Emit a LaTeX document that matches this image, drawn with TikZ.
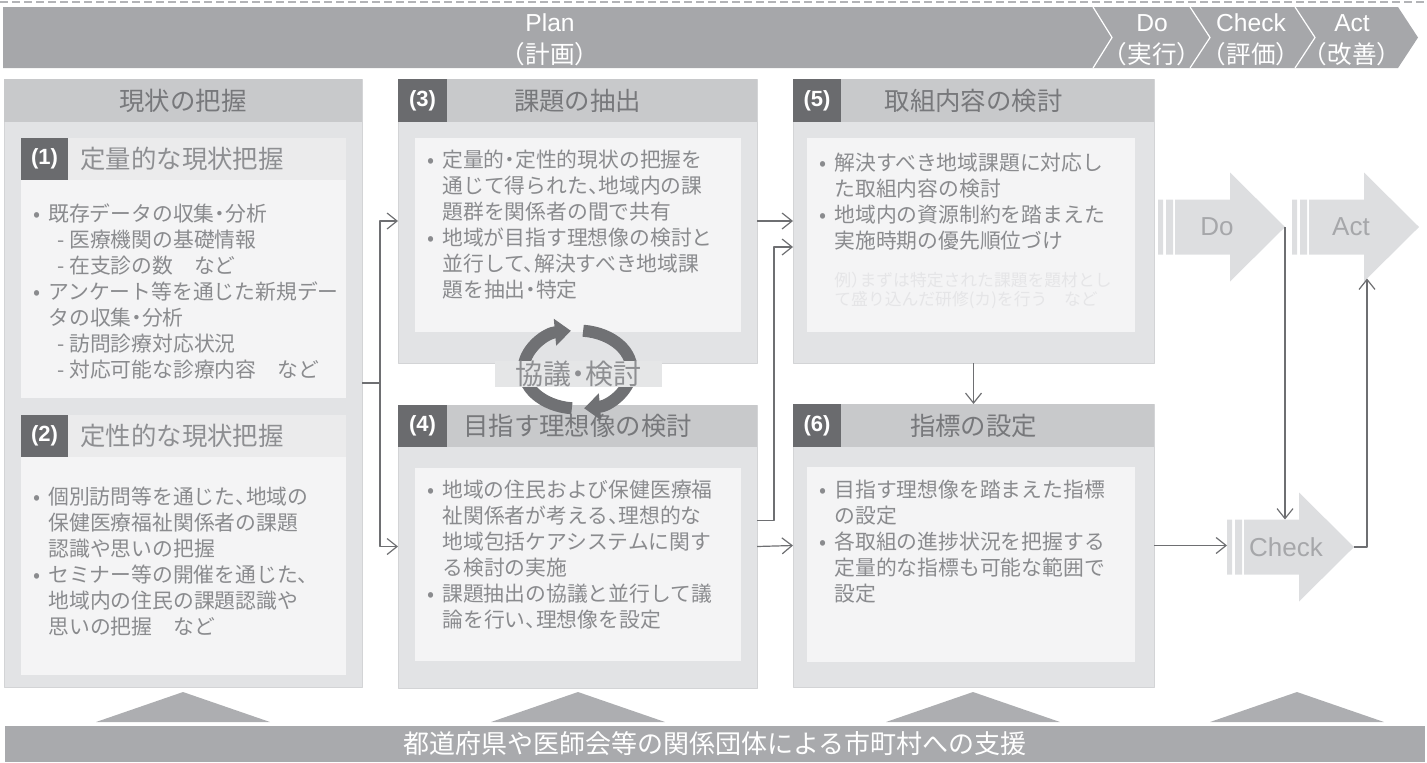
\documentclass[tikz,border=0pt]{standalone}
\usepackage{fontspec}
\setmainfont{Liberation Sans}
\newfontfamily\jp[CharacterWidth=AlternateHalf]{Noto Sans CJK JP}
\newfontfamily\jpw{Noto Sans CJK JP}
\usetikzlibrary{arrows.meta}
\definecolor{bannergray}{HTML}{A6A7AA}
\definecolor{panelfill}{HTML}{E2E3E5}
\definecolor{panelline}{HTML}{D3D4D6}
\definecolor{headgray}{HTML}{C8C9CB}
\definecolor{taggray}{HTML}{6A6B6E}
\definecolor{subheadfill}{HTML}{EBEBEC}
\definecolor{sheetfill}{HTML}{F4F4F5}
\definecolor{titlegray}{HTML}{77787B}
\definecolor{subtitlegray}{HTML}{8E8F92}
\definecolor{bodygray}{HTML}{8A8B8E}
\definecolor{faintgray}{HTML}{E5E5E7}
\definecolor{conngray}{HTML}{6E6F72}
\definecolor{cycgray}{HTML}{707174}
\definecolor{talkfill}{HTML}{E5E6E7}
\definecolor{arrowfill}{HTML}{DDDEE0}
\definecolor{arrowtext}{HTML}{A6A7AA}
\definecolor{trigray}{HTML}{ADAEB1}
\definecolor{supportgray}{HTML}{A9AAAD}
\definecolor{dashgray}{HTML}{B3B4B7}
\newcommand\bodyfont{\jp\fontsize{10.4pt}{13pt}\selectfont}
\newcommand\titlefont{\jp\fontsize{12.7pt}{15pt}\selectfont}
\tikzset{
	wh/.style 2 args={minimum width=#1*0.5pt, minimum height=#2*0.5pt},
	box/.style={anchor=north west, inner sep=0pt, outer sep=0pt},
	panel/.style={box, fill=panelfill, draw=panelline, line width=0.5pt},
	head/.style={box, fill=headgray},
	tag/.style={box, fill=taggray, text=white, font=\bfseries\fontsize{11pt}{12pt}\selectfont},
	subhead/.style={box, fill=subheadfill},
	sheet/.style={box, fill=sheetfill},
	title/.style={inner sep=0pt, text=titlegray, font=\titlefont},
	subtitle/.style={anchor=west, inner sep=0pt, text=subtitlegray, font=\titlefont},
	body/.style={anchor=north west, inner sep=0pt, align=left, text=bodygray, font=\bodyfont},
	conn/.style={draw=conngray, line width=0.6pt, -{Straight Barb[length=5pt, width=8pt]}},
	cyc/.style={draw=cycgray, line width=6pt, -{Triangle[length=8pt, width=13pt]}},
	bigtext/.style={inner sep=0pt, text=arrowtext, font=\fontsize{13pt}{15pt}\selectfont},
	bantext/.style={inner sep=0pt, align=center, text=white, font=\fontsize{12.3pt}{16pt}\selectfont},
	pics/pdca/.style={code={
		\fill[arrowfill] (0,-27.5) rectangle (5,27.5) (8,-27.5) rectangle (15,27.5)
			(17,-27.5) -- (72,-27.5) -- (72,-54.5) -- (127,0) -- (72,54.5) -- (72,27.5) -- (17,27.5) -- cycle;
		\coordinate (-tail) at (0,0);
		\coordinate (-tip) at (127,0);
		\coordinate (-top) at (60,-27.5);
		\coordinate (-foot) at (75,51.5);
		\node[bigtext] (-t) at (59,0) {#1};
	}}
}
\begin{document}
\begin{tikzpicture}[x=0.5pt, y=-0.5pt, line join=round]
	\useasboundingbox (0,0) rectangle (1427,762);
	\draw[dashgray, line width=0.8pt, dash pattern=on 4pt off 2pt] (0,2) -- (1427,2);
	\fill[bannergray] (3,7) -- (1398,7) -- (1418,37.5) -- (1398,68) -- (3,68) -- cycle;
	\draw[white, line width=0.6pt] (1093,7) -- (1112,37.5) -- (1093,68);
	\draw[white, line width=0.6pt] (1190,7) -- (1210,37.5) -- (1190,68);
	\draw[white, line width=0.6pt] (1295,7) -- (1315,37.5) -- (1295,68);
	\node[bantext] (plan) at (550,40) {Plan\\{\jpw （計画）}};
	\node[bantext] (do) at (1152,40) {Do\\{\jpw （実行）}};
	\node[bantext] (check) at (1251,40) {Check\\{\jpw （評価）}};
	\node[bantext] (act) at (1352,40) {Act\\{\jpw （改善）}};

	\node[panel, wh={358}{608}] (s0) at (4,79) {};
	\node[head, wh={358}{43}] (h0) at (4,79) {};
	\node[title] (t0) at (h0) {現状の把握};
	\node[tag, wh={47}{42}] (g1) at (21,138) {(1)};
	\node[subhead, wh={278}{42}] (h1) at (68,138) {};
	\node[subtitle] (t1) at (80,159) {定量的な現状把握};
	\node[sheet, wh={325}{218}] (s1) at (21,180) {};
	\node[body] (b1) at (48,203) {\llap{•\hspace{4pt}}既存データの収集・分析\\
		\hspace*{4.5pt}- 医療機関の基礎情報\\
		\hspace*{4.5pt}- 在支診の数　など\\
		\llap{•\hspace{4pt}}アンケート等を通じた新規デー\\
		タの収集・分析\\
		\hspace*{4.5pt}- 訪問診療対応状況\\
		\hspace*{4.5pt}- 対応可能な診療内容　など};
	\node[tag, wh={47}{42}] (g2) at (21,415) {(2)};
	\node[subhead, wh={278}{42}] (h2) at (68,415) {};
	\node[subtitle] (t2) at (80,436) {定性的な現状把握};
	\node[sheet, wh={325}{218}] (s2) at (21,457) {};
	\node[body] (b2) at (48,487) {\llap{•\hspace{4pt}}個別訪問等を通じた、地域の\\
		保健医療福祉関係者の課題\\
		認識や思いの把握\\
		\llap{•\hspace{4pt}}セミナー等の開催を通じた、\\
		地域内の住民の課題認識や\\
		思いの把握　など};

	\node[panel, wh={359}{284}] (s3) at (398,79) {};
	\node[head, wh={310}{43}] (h3) at (447,79) {};
	\node[tag, wh={49}{43}] (g3) at (398,79) {(3)};
	\node[title] (t3) at (577.5,100.5) {課題の抽出};
	\node[sheet, wh={326}{194}] (p3) at (415,138) {};
	\node[body] (b3) at (442,150) {\llap{•\hspace{4pt}}定量的・定性的現状の把握を\\
		通じて得られた、地域内の課\\
		題群を関係者の間で共有\\
		\llap{•\hspace{4pt}}地域が目指す理想像の検討と\\
		並行して、解決すべき地域課\\
		題を抽出・特定};

	\node[panel, wh={359}{283}] (s4) at (398,405) {};
	\node[head, wh={310}{42}] (h4) at (447,405) {};
	\node[tag, wh={49}{42}] (g4) at (398,405) {(4)};
	\node[title] (t4) at (577.5,426) {目指す理想像の検討};
	\node[sheet, wh={326}{193}] (p4) at (415,468) {};
	\node[body] (b4) at (442,480) {\llap{•\hspace{4pt}}地域の住民および保健医療福\\
		祉関係者が考える、理想的な\\
		地域包括ケアシステムに関す\\
		る検討の実施\\
		\llap{•\hspace{4pt}}課題抽出の協議と並行して議\\
		論を行い、理想像を設定};

	\node[panel, wh={361}{284}] (s5) at (793,79) {};
	\node[head, wh={313}{43}] (h5) at (841,79) {};
	\node[tag, wh={48}{43}] (g5) at (793,79) {(5)};
	\node[title] (t5) at (973.5,100.5) {取組内容の検討};
	\node[sheet, wh={328}{194}] (p5) at (807,138) {};
	\node[body] (b5) at (834,153) {\llap{•\hspace{4pt}}解決すべき地域課題に対応し\\
		た取組内容の検討\\
		\llap{•\hspace{4pt}}地域内の資源制約を踏まえた\\
		実施時期の優先順位づけ};
	\node[body, text=faintgray, font=\jp\fontsize{8.4pt}{9.5pt}\selectfont] (e5) at (834,272) {例）まずは特定された課題を題材とし\\
		て盛り込んだ研修(カ)を行う　など};

	\node[panel, wh={361}{283}] (s6) at (793,404) {};
	\node[head, wh={313}{43}] (h6) at (841,404) {};
	\node[tag, wh={48}{43}] (g6) at (793,404) {(6)};
	\node[title] (t6) at (973.5,425.5) {指標の設定};
	\node[sheet, wh={328}{195}] (p6) at (807,467) {};
	\node[body] (b6) at (834,480) {\llap{•\hspace{4pt}}目指す理想像を踏まえた指標\\
		の設定\\
		\llap{•\hspace{4pt}}各取組の進捗状況を把握する\\
		定量的な指標も可能な範囲で\\
		設定};

	\draw[cyc] (577.5,369.5) ++(264:27pt and 19.5pt) arc[start angle=264, end angle=97, x radius=27pt, y radius=19.5pt];
	\draw[cyc] (577.5,369.5) ++(84:27pt and 19.5pt) arc[start angle=84, end angle=-83, x radius=27pt, y radius=19.5pt];
	\node[fill=talkfill, wh={167}{26}, inner sep=0pt, text=subtitlegray, font=\jp\fontsize{14pt}{14pt}\selectfont] (talk) at (578.5,374) {協議・検討};

	\pic (pdo) at (1158,227) {pdca=Do};
	\pic (pact) at (1292,227) {pdca=Act};
	\pic (pchk) at (1227,547) {pdca=Check};

	\draw[conn] (s0.east) -- ++(18,0) |- (s3.west);
	\draw[conn] (s0.east) -- ++(18,0) |- (s4.west);
	\draw[conn] (s3.west -| s3.east) -- (s5.west);
	\draw[conn] ([yshift=13pt]s4.east) -- ++(17,0) |- ([yshift=-13pt]s5.west);
	\draw[conn] (s4.east) -- (s6.west);
	\draw[conn] (s5.south) -- (s6.north);
	\draw[conn] (s6.east) -- (s6.east -| pchk-tail);
	\draw[conn] (pdo-tip) -- (pdo-tip |- pchk-top);
	\draw[conn] (pchk-tip) -| (pact-foot);

	\fill[trigray] (96,722) -- (183,692) -- (270,722) -- cycle;
	\fill[trigray] (491,722) -- (578,692) -- (665,722) -- cycle;
	\fill[trigray] (886,722) -- (973,692) -- (1060,722) -- cycle;
	\fill[trigray] (1210,722) -- (1297,692) -- (1384,722) -- cycle;
	\node[box, fill=supportgray, wh={1420}{36}, text=white, font=\jp\fontsize{13pt}{15pt}\selectfont] (help) at (5,726) {都道府県や医師会等の関係団体による市町村への支援};
\end{tikzpicture}
\end{document}
